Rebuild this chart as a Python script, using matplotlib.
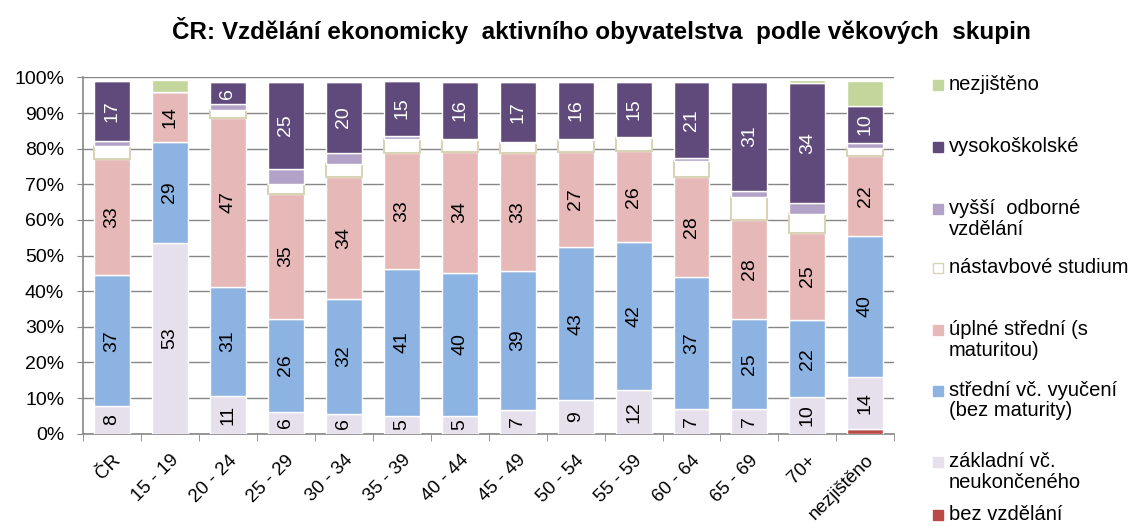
import matplotlib
matplotlib.use('Agg')
import matplotlib.pyplot as plt
import numpy as np

plt.rcParams['font.family'] = ['Liberation Sans', 'DejaVu Sans']

categories = ['ČR', '15 - 19', '20 - 24', '25 - 29', '30 - 34', '35 - 39', '40 - 44',
              '45 - 49', '50 - 54', '55 - 59', '60 - 64', '65 - 69', '70+', 'nezjištěno']

# shares in %, bottom to top
bez = [0, 0, 0, 0, 0, 0, 0, 0, 0, 0, 0, 0, 0, 1.4]
zakladni = [7.7, 53.4, 10.6, 6.1, 5.6, 4.9, 5.0, 6.7, 9.4, 12.2, 7.0, 7.0, 10.2, 14.4]
stredni = [36.8, 28.6, 30.6, 26.2, 32.3, 41.4, 40.1, 39.0, 43.0, 41.5, 37.0, 25.3, 21.6, 39.8]
uplne = [32.6, 13.9, 47.4, 35.1, 34.2, 32.6, 34.0, 33.0, 26.7, 25.6, 28.1, 27.8, 24.6, 22.4]
nastavbove = [3.7, 0, 2.2, 2.6, 3.5, 3.9, 3.3, 2.8, 3.3, 3.8, 4.5, 6.4, 5.4, 2.1]
vyssi = [1.4, 0, 1.7, 4.2, 3.1, 0.9, 0.3, 0.4, 0.3, 0.3, 0.9, 1.6, 3.0, 1.6]
vysoke = [16.7, 0, 6.1, 24.6, 20.1, 15.3, 16.1, 16.9, 16.1, 15.4, 21.3, 30.7, 33.7, 10.3]
nezjisteno = [0, 3.3, 0, 0, 0, 0, 0, 0, 0, 0, 0, 0, 0.9, 7.0]

series = [
    ('bez vzdělání', bez, '#b94a48', 'white', False),
    ('základní vč.\nneukončeného', zakladni, '#e6e0ec', 'white', True),
    ('střední vč. vyučení\n(bez maturity)', stredni, '#8db3e2', 'white', True),
    ('úplné střední (s\nmaturitou)', uplne, '#e6b9b8', 'white', True),
    ('nástavbové studium', nastavbove, 'white', '#d8d4b8', False),
    ('vyšší  odborné\nvzdělání', vyssi, '#b3a2c7', 'white', False),
    ('vysokoškolské', vysoke, '#604a7b', 'white', True),
    ('nezjištěno', nezjisteno, '#c3d69b', 'white', False),
]

fig = plt.figure(figsize=(11.46, 5.27), dpi=100)
ax = fig.add_axes([0.0724, 0.177, 0.708, 0.676])

x = np.arange(len(categories))
bottom = np.zeros(len(categories))
for name, vals, color, edge, show in series:
    vals = np.array(vals, dtype=float)
    lw = 1.5 if edge != 'white' else 1
    ax.bar(x, vals, 0.62, bottom=bottom, color=color, edgecolor=edge, linewidth=lw, zorder=3)
    if show:
        tc = 'white' if color == '#604a7b' else 'black'
        for xi, b, v in zip(x, bottom, vals):
            if v > 0:
                ax.text(xi, b + v / 2, f'{v:.0f}', rotation=90, ha='center', va='center',
                        fontsize=14, color=tc, zorder=4)
    bottom += vals

ax.set_xlim(-0.5, len(categories) - 0.5)
ax.set_ylim(0, 100)
ax.set_yticks(np.arange(0, 101, 10))
ax.set_yticklabels([f'{v}%' for v in range(0, 101, 10)], fontsize=14)
ax.yaxis.grid(True, color='#868686', linewidth=1, zorder=0)
ax.tick_params(axis='y', length=4, color='#868686', direction='out', pad=9.5)

ax.set_xticks(x)
ax.set_xticklabels(categories, rotation=45, ha='right', rotation_mode='anchor', fontsize=13.5)
ax.set_xticks(np.arange(-0.5, len(categories)), minor=True)
ax.tick_params(axis='x', which='major', length=0, pad=13)
ax.tick_params(axis='x', which='minor', length=5, color='#868686')

for s in ['top', 'right']:
    ax.spines[s].set_visible(False)
for s in ['left', 'bottom']:
    ax.spines[s].set_color('#868686')
    ax.spines[s].set_linewidth(1.2)

fig.text(0.525, 0.943, 'ČR: Vzdělání ekonomicky  aktivního obyvatelstva  podle věkových  skupin',
         ha='center', va='center', fontsize=17.5, fontweight='bold')

# legend, top to bottom
legend_y = [85, 147, 209, 268, 330, 391, 462, 515]
for (name, vals, color, edge, show), yy in zip(series[::-1], legend_y):
    yf = 1 - yy / 527
    fig.patches.append(plt.Rectangle((933 / 1146, yf - 5 / 527), 10 / 1146, 10 / 527,
                                     transform=fig.transFigure, facecolor=color,
                                     edgecolor=edge if edge != 'white' else color, linewidth=1))
    fig.text(949 / 1146, yf + 10 / 527, name, ha='left', va='top', fontsize=14.5,
             linespacing=1.1)

fig.savefig('out.png', dpi=100)
